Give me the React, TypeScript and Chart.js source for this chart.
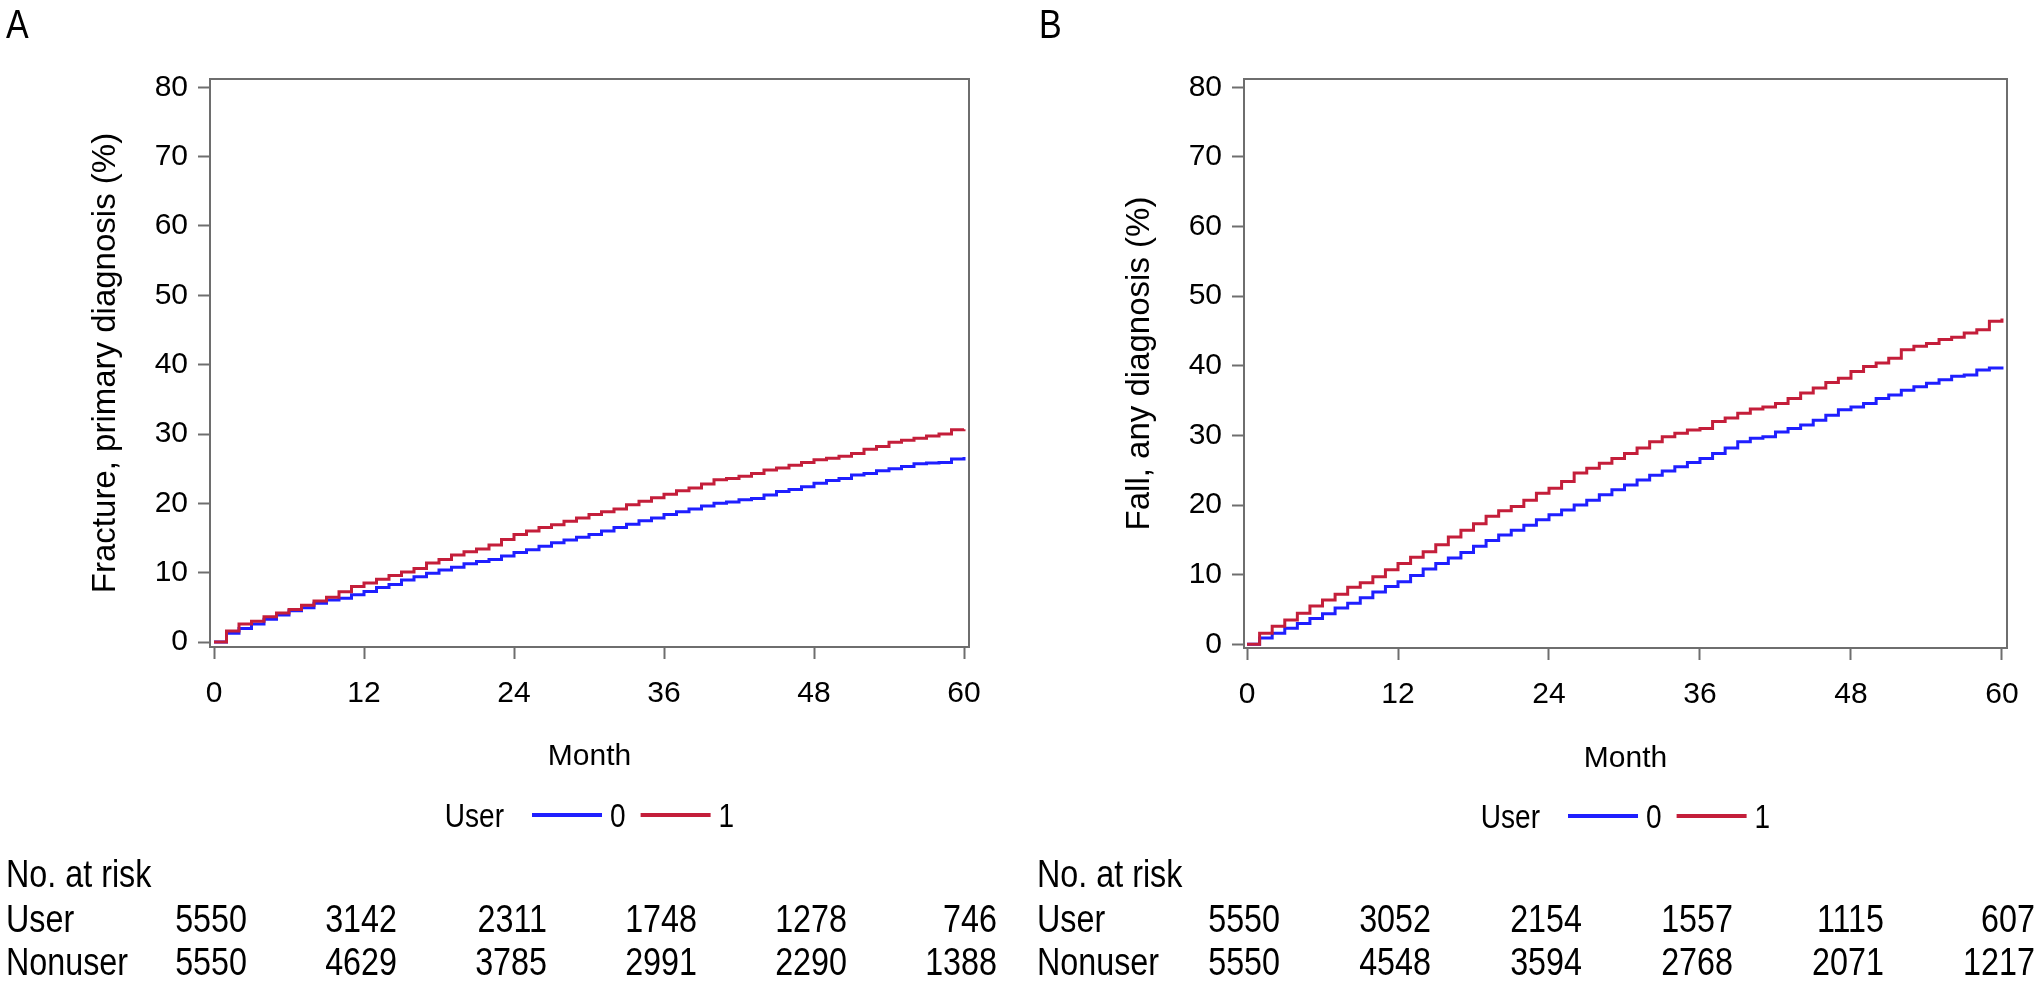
import React, { useEffect, useRef } from "react";
import { Chart, registerables } from "chart.js";

Chart.register(...registerables);

// ---------- data ----------
const MONTHS = [
  0, 1, 2, 3, 4, 5, 6, 7, 8, 9, 10, 11, 12, 13, 14, 15, 16, 17, 18, 19, 20,
  21, 22, 23, 24, 25, 26, 27, 28, 29, 30, 31, 32, 33, 34, 35, 36, 37, 38, 39, 40,
  41, 42, 43, 44, 45, 46, 47, 48, 49, 50, 51, 52, 53, 54, 55, 56, 57, 58, 59, 60,
];

// Panel A: Fracture, primary diagnosis (%)
const FRACTURE_USER = [
  0, 1.6, 2.6, 3.0, 3.65, 4.2, 4.7, 5.3, 5.9, 6.45, 7.25, 8.0, 8.5, 9.05, 9.6, 10.1, 10.6, 11.4, 11.9, 12.55, 13.0,
  13.4, 14.0, 14.8, 15.5, 16.0, 16.5, 16.9, 17.4, 17.9, 18.4, 18.8, 19.2, 19.8, 20.3, 20.8, 21.3, 21.8, 22.2, 22.8, 23.4,
  23.6, 23.9, 24.3, 24.8, 25.1, 25.5, 25.9, 26.3, 26.5, 26.8, 27.2, 27.8, 28.2, 28.8, 29.1, 29.4, 29.7, 30.0, 30.6, 30.7,
];
const FRACTURE_NONUSER = [
  0, 1.25, 1.95, 2.6, 3.3, 3.9, 4.5, 4.95, 5.6, 6.05, 6.3, 6.8, 7.3, 7.85, 8.3, 8.95, 9.4, 9.9, 10.4, 10.8, 11.3,
  11.6, 11.9, 12.4, 12.9, 13.3, 13.8, 14.3, 14.7, 15.1, 15.5, 16.0, 16.5, 17.0, 17.5, 17.9, 18.4, 18.8, 19.2, 19.6, 20.0,
  20.2, 20.5, 20.7, 21.2, 21.7, 22.0, 22.4, 22.9, 23.3, 23.6, 24.1, 24.3, 24.7, 25.0, 25.3, 25.7, 25.8, 25.9, 26.4, 26.7,
];

// Panel B: Fall, any diagnosis (%)
const FALL_USER = [
  0, 1.6, 2.6, 3.5, 4.45, 5.5, 6.35, 7.2, 8.2, 8.85, 9.7, 10.7, 11.6, 12.5, 13.3, 14.3, 15.4, 16.4, 17.3, 18.4, 19.2,
  19.8, 20.7, 21.7, 22.4, 23.4, 24.6, 25.3, 26.0, 26.7, 27.4, 28.2, 29.1, 29.8, 30.3, 30.8, 31.0, 32.0, 32.5, 33.2, 33.8,
  34.1, 34.6, 35.3, 36.1, 36.8, 37.6, 38.2, 39.2, 39.9, 40.4, 41.1, 42.3, 42.8, 43.2, 43.8, 44.1, 44.7, 45.2, 46.4, 46.8,
];
const FALL_NONUSER = [
  0, 0.9, 1.6, 2.3, 3.0, 3.7, 4.4, 5.2, 5.9, 6.7, 7.5, 8.3, 9.0, 9.9, 10.8, 11.6, 12.4, 13.2, 14.1, 14.9, 15.7,
  16.4, 17.1, 17.9, 18.6, 19.3, 20.0, 20.7, 21.5, 22.2, 22.9, 23.6, 24.3, 24.9, 25.5, 26.1, 26.7, 27.4, 28.2, 29.1, 29.6,
  29.8, 30.5, 31.0, 31.5, 32.2, 32.9, 33.7, 34.1, 34.6, 35.3, 35.8, 36.5, 37.0, 37.5, 38.0, 38.5, 38.7, 39.4, 39.7, 39.9,
];

const X_TICKS = [0, 12, 24, 36, 48, 60];
const Y_TICKS = [0, 10, 20, 30, 40, 50, 60, 70, 80];

const RISK_MONTHS = [0, 12, 24, 36, 48, 60];
const A_RISK_USER = [5550, 3142, 2311, 1748, 1278, 746];
const A_RISK_NONUSER = [5550, 4629, 3785, 2991, 2290, 1388];
const B_RISK_USER = [5550, 3052, 2154, 1557, 1115, 607];
const B_RISK_NONUSER = [5550, 4548, 3594, 2768, 2071, 1217];

const LEGEND_TITLE = "User";
const GROUP_NONUSER = "0";
const GROUP_USER = "1";
const RISK_TITLE = "No. at risk";
const RISK_ROW_USER = "User";
const RISK_ROW_NONUSER = "Nonuser";

// ---------- styles ----------
const SANS = '"Liberation Sans", Arial, Helvetica, sans-serif';
const SQUEEZE = 0.85;
const BLUE = "#1f1fff";
const RED = "#c41e3a";
const FRAME = "#6e6e6e";
const W = 1020;
const H = 981;

type Spec = {
  letter: string;
  letterX: number;
  yTitle: string;
  user: number[];
  nonuser: number[];
  riskUser: number[];
  riskNonuser: number[];
  area: { left: number; right: number; top: number; bottom: number };
  xMin: number;
  xMax: number;
  yMin: number;
  yMax: number;
  yTitlePad: number;
  xTitlePad: number;
  legendBase: number;
  tableX: number;
};

const SPEC_A: Spec = {
  letter: "A",
  letterX: 6,
  yTitle: "Fracture, primary diagnosis (%)",
  user: FRACTURE_USER,
  nonuser: FRACTURE_NONUSER,
  riskUser: A_RISK_USER,
  riskNonuser: A_RISK_NONUSER,
  area: { left: 210, right: 969, top: 79, bottom: 647 },
  xMin: -0.32,
  xMax: 60.4,
  yMin: -0.72,
  yMax: 81.2,
  yTitlePad: 86,
  xTitlePad: 206,
  legendBase: 827,
  tableX: 6,
};

const SPEC_B: Spec = {
  letter: "B",
  letterX: 19,
  yTitle: "Fall, any diagnosis (%)",
  user: FALL_USER,
  nonuser: FALL_NONUSER,
  riskUser: B_RISK_USER,
  riskNonuser: B_RISK_NONUSER,
  area: { left: 224, right: 987, top: 79, bottom: 648 },
  xMin: -0.24,
  xMax: 60.4,
  yMin: -0.53,
  yMax: 81.2,
  yTitlePad: 100,
  xTitlePad: 204,
  legendBase: 828,
  tableX: 17,
};

function squeezedText(ctx: CanvasRenderingContext2D, text: string, x: number, y: number, align: CanvasTextAlign) {
  ctx.save();
  ctx.translate(x, y);
  ctx.scale(SQUEEZE, 1);
  ctx.textAlign = align;
  ctx.fillText(text, 0, 0);
  ctx.restore();
}

function makeDecor(spec: Spec) {
  return {
    id: "panelDecor" + spec.letter,
    afterDatasetsDraw(chart: any) {
      const { ctx, chartArea } = chart;
      ctx.save();
      ctx.strokeStyle = FRAME;
      ctx.lineWidth = 2;
      ctx.strokeRect(chartArea.left, chartArea.top, chartArea.right - chartArea.left, chartArea.bottom - chartArea.top);
      ctx.restore();
    },
    afterDraw(chart: any) {
      const { ctx, chartArea } = chart;
      const xs = chart.scales.x;
      ctx.save();
      ctx.fillStyle = "#000";
      ctx.textBaseline = "alphabetic";

      // panel letter
      ctx.font = `40px ${SANS}`;
      squeezedText(ctx, spec.letter, spec.letterX, 38, "left");

      // legend
      ctx.font = `33px ${SANS}`;
      const wTitle = ctx.measureText(LEGEND_TITLE).width * SQUEEZE;
      const w0 = ctx.measureText(GROUP_NONUSER).width * SQUEEZE;
      const w1 = ctx.measureText(GROUP_USER).width * SQUEEZE;
      const lineLen = 70;
      const total = wTitle + 28 + lineLen + 8 + w0 + 15 + lineLen + 8 + w1;
      let x = (chartArea.left + chartArea.right) / 2 - total / 2;
      const base = spec.legendBase;
      const lineY = base - 12;
      squeezedText(ctx, LEGEND_TITLE, x, base, "left");
      x += wTitle + 28;
      ctx.lineWidth = 4;
      ctx.strokeStyle = BLUE;
      ctx.beginPath();
      ctx.moveTo(x, lineY);
      ctx.lineTo(x + lineLen, lineY);
      ctx.stroke();
      x += lineLen + 8;
      squeezedText(ctx, GROUP_NONUSER, x, base, "left");
      x += w0 + 15;
      ctx.strokeStyle = RED;
      ctx.beginPath();
      ctx.moveTo(x, lineY);
      ctx.lineTo(x + lineLen, lineY);
      ctx.stroke();
      x += lineLen + 8;
      squeezedText(ctx, GROUP_USER, x, base, "left");

      // risk table
      ctx.font = `38px ${SANS}`;
      squeezedText(ctx, RISK_TITLE, spec.tableX, 887, "left");
      squeezedText(ctx, RISK_ROW_USER, spec.tableX, 932, "left");
      squeezedText(ctx, RISK_ROW_NONUSER, spec.tableX, 975, "left");
      RISK_MONTHS.forEach((m, i) => {
        const px = xs.getPixelForValue(m) + 33;
        squeezedText(ctx, String(spec.riskUser[i]), px, 932, "right");
        squeezedText(ctx, String(spec.riskNonuser[i]), px, 975, "right");
      });
      ctx.restore();
    },
  };
}

function Panel({ spec, left }: { spec: Spec; left: number }) {
  const ref = useRef<HTMLCanvasElement>(null);
  useEffect(() => {
    const canvas = ref.current;
    if (!canvas) return;
    const toPts = (arr: number[]) => MONTHS.map((m, i) => ({ x: m, y: arr[i] }));
    const grid = {
      display: true,
      drawOnChartArea: false,
      drawTicks: true,
      tickLength: 12,
      tickColor: FRAME,
      tickWidth: 2,
      color: FRAME,
    };
    const chart = new Chart(canvas, {
      type: "line",
      data: {
        datasets: [
          {
            label: GROUP_USER,
            data: toPts(spec.user),
            borderColor: RED,
            backgroundColor: RED,
            borderWidth: 3,
            pointRadius: 0,
            stepped: "before",
            fill: false,
            order: 0,
          },
          {
            label: GROUP_NONUSER,
            data: toPts(spec.nonuser),
            borderColor: BLUE,
            backgroundColor: BLUE,
            borderWidth: 3,
            pointRadius: 0,
            stepped: "before",
            fill: false,
            order: 1,
          },
        ],
      },
      options: {
        responsive: false,
        animation: false,
        devicePixelRatio: 1,
        layout: {
          padding: { left: 0, top: spec.area.top, right: W - spec.area.right, bottom: 0 },
        },
        plugins: {
          legend: { display: false },
          tooltip: { enabled: false },
          title: { display: false },
        },
        scales: {
          x: {
            type: "linear",
            min: spec.xMin,
            max: spec.xMax,
            afterBuildTicks: (s: any) => {
              s.ticks = X_TICKS.map((v) => ({ value: v }));
            },
            afterFit: (s: any) => {
              s.height = H - spec.area.bottom;
            },
            grid,
            border: { display: false },
            ticks: {
              color: "#000",
              font: { family: SANS, size: 30 },
              padding: 17,
              maxRotation: 0,
              autoSkip: false,
            },
            title: {
              display: true,
              text: "Month",
              color: "#000",
              font: { family: SANS, size: 30 },
              padding: { top: 0, bottom: spec.xTitlePad },
            },
          },
          y: {
            type: "linear",
            min: spec.yMin,
            max: spec.yMax,
            afterBuildTicks: (s: any) => {
              s.ticks = Y_TICKS.map((v) => ({ value: v }));
            },
            afterFit: (s: any) => {
              s.width = spec.area.left;
            },
            grid,
            border: { display: false },
            ticks: {
              color: "#000",
              font: { family: SANS, size: 30 },
              padding: 10,
              autoSkip: false,
            },
            title: {
              display: true,
              text: spec.yTitle,
              color: "#000",
              font: { family: SANS, size: 33 },
              padding: { top: spec.yTitlePad, bottom: 0 },
            },
          },
        },
      } as any,
      plugins: [makeDecor(spec)],
    });
    return () => chart.destroy();
  }, [spec]);
  return (
    <canvas
      ref={ref}
      width={W}
      height={H}
      style={{ position: "absolute", left, top: 0, width: W, height: H, display: "block" }}
    />
  );
}

export default function App() {
  return (
    <div style={{ position: "absolute", left: 0, top: 0, width: 2040, height: 981, background: "#fff", overflow: "hidden" }}>
      <Panel spec={SPEC_A} left={0} />
      <Panel spec={SPEC_B} left={1020} />
    </div>
  );
}
